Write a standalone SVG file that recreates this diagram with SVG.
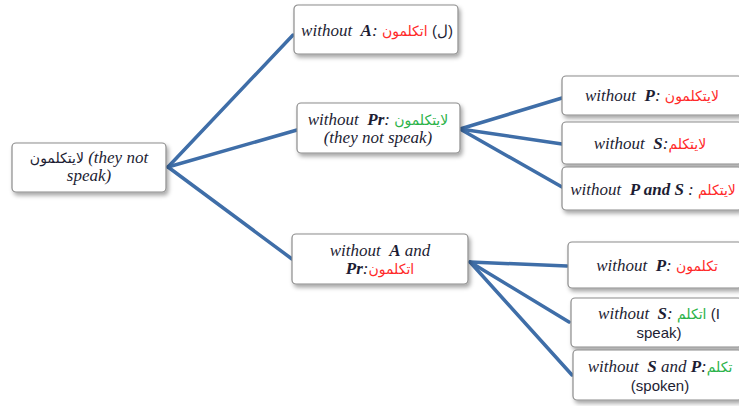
<svg xmlns="http://www.w3.org/2000/svg" width="739" height="406" viewBox="0 0 739 406">
<defs>
<filter id="sh" x="-10%" y="-20%" width="125%" height="150%">
<feDropShadow dx="2" dy="3" stdDeviation="2" flood-color="#000" flood-opacity="0.35"/>
</filter>
<style>
.box{fill:#fff;stroke:#8c8c8c;stroke-width:1.2;filter:url(#sh)}
.t{font-family:"Liberation Serif",serif;font-style:italic;font-size:17px;fill:#1d1d33;text-anchor:middle}
.b{font-weight:bold}
.ar{font-family:"DejaVu Sans","Liberation Sans",sans-serif;font-style:normal;font-size:14px}
.s{font-family:"Liberation Sans",sans-serif;font-style:normal;font-size:15px}
.red{fill:#ff2a2a}
.grn{fill:#2cb34a}
.con{stroke:#3f6ea8;stroke-width:3.5;stroke-linecap:round;fill:none}
</style>
</defs>
<rect width="739" height="406" fill="#fff"/>
<g id="connectors">
<line class="con" x1="168" y1="167" x2="293" y2="35"/>
<line class="con" x1="168" y1="167" x2="297" y2="130"/>
<line class="con" x1="168" y1="167" x2="292" y2="259"/>
<line class="con" x1="460" y1="129" x2="562" y2="98"/>
<line class="con" x1="460" y1="129" x2="562" y2="144"/>
<line class="con" x1="460" y1="129" x2="562" y2="187"/>
<line class="con" x1="470" y1="262" x2="567" y2="266"/>
<line class="con" x1="470" y1="262" x2="569" y2="322"/>
<line class="con" x1="470" y1="262" x2="572" y2="375"/>
</g>
<g id="root">
<rect class="box" x="12" y="143" width="154" height="49" rx="4"/>
<text class="t" x="89" y="163"><tspan class="ar">لايتكلمون</tspan> (they not</text>
<text class="t" x="89" y="181">speak)</text>
</g>
<g id="nodeA">
<rect class="box" x="294" y="5" width="164" height="49" rx="4"/>
<text class="t" x="377" y="36">without&#160; <tspan class="b">A</tspan>: <tspan class="ar red">&#x2067;اتكلمون&#x2069;</tspan> <tspan class="s">(ل)</tspan></text>
</g>
<g id="nodePr">
<rect class="box" x="297" y="103" width="163" height="50" rx="4"/>
<text class="t" x="378" y="125">without&#160; <tspan class="b">Pr</tspan>: <tspan class="ar grn">لايتكلمون</tspan></text>
<text class="t" x="378" y="143">(they not speak)</text>
</g>
<g id="nodeAPr">
<rect class="box" x="292" y="234" width="176" height="50" rx="4"/>
<text class="t" x="380" y="256">without&#160; <tspan class="b">A</tspan> and</text>
<text class="t" x="380" y="274"><tspan class="b">Pr</tspan>:<tspan class="ar red">اتكلمون</tspan></text>
</g>
<g id="nodePrP">
<rect class="box" x="562" y="76" width="180" height="39" rx="4"/>
<text class="t" x="652" y="101">without&#160; <tspan class="b">P</tspan>: <tspan class="ar red">لايتكلمون</tspan></text>
</g>
<g id="nodePrS">
<rect class="box" x="562" y="122" width="180" height="42" rx="4"/>
<text class="t" x="650" y="149">without&#160; <tspan class="b">S</tspan>:<tspan class="ar red">لايتكلم</tspan></text>
</g>
<g id="nodePrPS">
<rect class="box" x="562" y="167" width="180" height="43" rx="4"/>
<text class="t" x="653" y="195">without&#160; <tspan class="b">P and S</tspan> : <tspan class="ar red">لايتكلم</tspan></text>
</g>
<g id="nodeAPrP">
<rect class="box" x="568" y="242" width="174" height="46" rx="4"/>
<text class="t" x="657" y="271">without&#160; <tspan class="b">P</tspan>: <tspan class="ar red">تكلمون</tspan></text>
</g>
<g id="nodeAPrS">
<rect class="box" x="571" y="298" width="171" height="49" rx="4"/>
<text class="t" x="659" y="319">without&#160; <tspan class="b">S</tspan>: <tspan class="ar grn">اتكلم</tspan> <tspan class="s">(I</tspan></text>
<text class="t s" x="659" y="338">speak)</text>
</g>
<g id="nodeAPrSP">
<rect class="box" x="573" y="350" width="169" height="50" rx="4"/>
<text class="t" x="660" y="372">without&#160; <tspan class="b">S</tspan> and <tspan class="b">P</tspan>:<tspan class="ar grn">تكلم</tspan></text>
<text class="t s" x="660" y="391">(spoken)</text>
</g>
</svg>
